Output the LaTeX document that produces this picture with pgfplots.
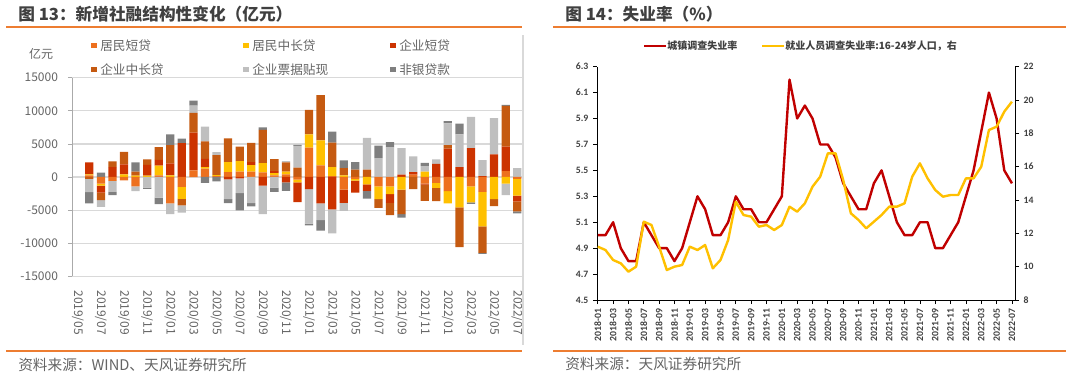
\documentclass[border=0pt]{standalone}
\usepackage{pgfplots}
\pgfplotsset{compat=1.18}
\usepackage{pgfplotstable}
\usepackage{fontspec}
\setmainfont{Noto Sans CJK SC}
\newfontfamily\carl{Carlito}

\definecolor{jmdd}{RGB}{237,112,30}
\definecolor{jmzc}{RGB}{255,192,0}
\definecolor{qydd}{RGB}{204,51,0}
\definecolor{qyzc}{RGB}{197,90,17}
\definecolor{pj}{RGB}{191,191,191}
\definecolor{fy}{RGB}{127,127,127}
\definecolor{txt}{RGB}{100,100,100}
\definecolor{ttl}{RGB}{64,64,64}
\definecolor{rulec}{RGB}{237,125,49}
\definecolor{gridc}{RGB}{217,217,217}
\definecolor{axg}{RGB}{170,170,170}
\definecolor{lred}{RGB}{192,0,0}
\definecolor{lyel}{RGB}{255,192,0}

% 新增社融结构性变化: 居民短贷 A, 居民中长贷 B, 企业短贷 C, 企业中长贷 D, 企业票据贴现 E, 非银贷款 F
\pgfplotstableread{
i A B C D E F
1 250 150 1800 -300 -2000 -1700
2 -1000 -300 -1050 -1150 -1000 650
3 -600 0 1500 850 -1650 -500
4 -500 400 1500 1900 0 0
5 -1400 200 0 600 -750 1400
6 0 200 1650 800 -1600 -200
7 250 1450 900 1900 -3100 -1000
8 -4000 250 1800 2750 -1600 1650
9 -1500 -1800 5100 -1000 -1100 700
10 1000 0 5700 3000 1100 750
11 1250 250 1250 2650 2200 -900
12 150 150 0 3000 450 -650
13 750 1500 -350 3600 -3000 -600
14 800 1600 -200 2200 -2250 -2600
15 800 1000 450 2900 -3950 -500
16 700 1400 -1300 5000 -4300 400
17 250 350 300 1800 -1600 -650
18 400 400 -800 1400 200 -1300
19 -400 -400 -3000 1400 3300 150
20 4450 2000 -1850 3700 -5200 -250
21 1750 3800 -4000 6800 -2500 -1600
22 150 1350 -4900 3700 -3600 1650
23 -1900 250 -2000 1100 -1200 1150
24 -300 -250 -1800 1100 0 1150
25 0 -1100 -1000 1100 4800 -1150
26 -1400 -1950 0 -1300 2850 1900
27 -1400 -1200 -1300 -1850 4500 750
28 0 -1900 350 -3700 4000 -550
29 350 0 400 -1850 2350 0
30 -1000 800 -150 -2450 850 500
31 -900 -750 2000 -2000 650 0
32 -2150 -1850 4300 500 3300 350
33 0 -4600 1500 -6000 4950 1600
34 -1400 -2450 4350 0 4750 -200
35 -2250 -5200 150 -4000 2400 -150
36 0 -3350 3400 -1050 5500 0
37 900 -1000 3700 6150 -1750 150
38 -300 -2500 -900 -1500 1350 -300
}\tsf

% 失业率: u 城镇调查失业率 (left), y 16-24岁 (right)
\pgfplotstableread{
m u y
0 5.0 11.2
1 5.0 11.0
2 5.1 10.4
3 4.9 10.2
4 4.8 9.7
5 4.8 10.0
6 5.1 12.7
7 5.0 12.5
8 4.9 11.2
9 4.9 9.8
10 4.8 10.0
11 4.9 10.1
12 5.1 11.2
13 5.3 11.0
14 5.2 11.3
15 5.0 9.9
16 5.0 10.4
17 5.1 11.6
18 5.3 13.9
19 5.2 13.1
20 5.2 13.0
21 5.1 12.4
22 5.1 12.5
23 5.2 12.2
24 5.3 12.5
25 6.2 13.6
26 5.9 13.3
27 6.0 13.8
28 5.9 14.8
29 5.7 15.4
30 5.7 16.8
31 5.6 16.8
32 5.4 15.2
33 5.3 13.2
34 5.2 12.8
35 5.2 12.3
36 5.4 12.7
37 5.5 13.1
38 5.3 13.6
39 5.1 13.6
40 5.0 13.8
41 5.0 15.4
42 5.1 16.2
43 5.1 15.3
44 4.9 14.6
45 4.9 14.2
46 5.0 14.3
47 5.1 14.3
48 5.3 15.3
49 5.5 15.3
50 5.8 16.0
51 6.1 18.2
52 5.9 18.4
53 5.5 19.3
54 5.4 19.9
}\tun

\pgfplotsset{
  lgeom/.style={at={(54pt,74.78pt)}, anchor=south west, scale only axis,
    width=338.25pt, height=148.95pt,
    xmin=-0.5, xmax=38.5, ymin=-15000, ymax=15000,
    ybar stacked, bar width=6.2pt},
  rgeom/.style={at={(447.75pt,57pt)}, anchor=south west, scale only axis,
    width=313.5pt, height=175pt, xmin=-0.1, xmax=54.4},
}

\begin{document}
\begin{tikzpicture}
\path[use as bounding box] (0,0) rectangle (810pt,282pt);

% ---------------- left chart: positive parts ----------------
\begin{axis}[lgeom,
  axis x line*=bottom, axis y line*=left,
  x axis line style={draw=none},
  y axis line style={draw=axg, line width=0.6pt},
  ytick={-15000,-10000,...,15000},
  scaled y ticks=false,
  xtick={0,2,...,38},
  xticklabels={2019/05,2019/07,2019/09,2019/11,2020/01,2020/03,2020/05,2020/07,2020/09,2020/11,2021/01,2021/03,2021/05,2021/07,2021/09,2021/11,2022/01,2022/03,2022/05,2022/07},
  xtick style={draw=none},
  ytick style={draw=axg, line width=0.6pt},
  tick align=outside, major tick length=3pt,
  ymajorgrids, grid style={draw=gridc, line width=0.9pt},
  /pgf/number format/1000 sep={},
  /pgf/number format/assume math mode=true,
  x tick label style={rotate=-90, anchor=west, font=\fontsize{9}{10}\selectfont, text=txt},
  y tick label style={font=\fontsize{9}{10}\selectfont, text=txt},
  xticklabel shift=4pt,
  yticklabel shift=4pt,
]
\addplot[fill=jmdd, draw=none] table[x=i, y expr={max(\thisrow{A},0)}] {\tsf};
\addplot[fill=jmzc, draw=none] table[x=i, y expr={max(\thisrow{B},0)}] {\tsf};
\addplot[fill=qydd, draw=none] table[x=i, y expr={max(\thisrow{C},0)}] {\tsf};
\addplot[fill=qyzc, draw=none] table[x=i, y expr={max(\thisrow{D},0)}] {\tsf};
\addplot[fill=pj, draw=none] table[x=i, y expr={max(\thisrow{E},0)}] {\tsf};
\addplot[fill=fy, draw=none] table[x=i, y expr={max(\thisrow{F},0)}] {\tsf};
\end{axis}

% ---------------- left chart: negative parts ----------------
\begin{axis}[lgeom, hide axis]
\addplot[fill=jmdd, draw=none] table[x=i, y expr={min(\thisrow{A},0)}] {\tsf};
\addplot[fill=jmzc, draw=none] table[x=i, y expr={min(\thisrow{B},0)}] {\tsf};
\addplot[fill=qydd, draw=none] table[x=i, y expr={min(\thisrow{C},0)}] {\tsf};
\addplot[fill=qyzc, draw=none] table[x=i, y expr={min(\thisrow{D},0)}] {\tsf};
\addplot[fill=pj, draw=none] table[x=i, y expr={min(\thisrow{E},0)}] {\tsf};
\addplot[fill=fy, draw=none] table[x=i, y expr={min(\thisrow{F},0)}] {\tsf};
\end{axis}

% ---------------- right chart: left axis ----------------
\begin{axis}[rgeom, ymin=4.5, ymax=6.3,
  axis x line*=bottom, axis y line*=left,
  axis line style={black, line width=0.7pt},
  ytick={4.5,4.7,4.9,5.1,5.3,5.5,5.7,5.9,6.1,6.3},
  /pgf/number format/assume math mode=true,
  /pgf/number format/fixed, /pgf/number format/fixed zerofill, /pgf/number format/precision=1,
  xtick={0,2,...,54},
  xticklabels={2018-01,2018-03,2018-05,2018-07,2018-09,2018-11,2019-01,2019-03,2019-05,2019-07,2019-09,2019-11,2020-01,2020-03,2020-05,2020-07,2020-09,2020-11,2021-01,2021-03,2021-05,2021-07,2021-09,2021-11,2022-01,2022-03,2022-05,2022-07},
  x tick label style={rotate=90, anchor=east, font=\carl\bfseries\fontsize{7.3}{8}\selectfont, text=ttl},
  y tick label style={font=\carl\bfseries\fontsize{7.3}{8}\selectfont, text=ttl},
  tick align=outside, major tick length=3pt,
  tick style={black, line width=0.6pt},
]
\addplot[lred, line width=1.8pt, line join=round] table[x=m, y=u] {\tun};
\end{axis}

% ---------------- right chart: right axis ----------------
\begin{axis}[rgeom, ymin=8, ymax=22,
  axis x line=none, axis y line*=right,
  axis line style={black, line width=0.7pt},
  ytick={8,10,...,22},
  /pgf/number format/assume math mode=true,
  y tick label style={font=\carl\bfseries\fontsize{7.3}{8}\selectfont, text=ttl},
  tick align=outside, major tick length=3pt,
  tick style={black, line width=0.6pt},
]
\addplot[lyel, line width=1.8pt, line join=round] table[x=m, y=y] {\tun};
\end{axis}

% ---------------- decorations ----------------
\begin{scope}[x=0.75pt, y=0.75pt]
\node[anchor=west, inner sep=0, text=ttl, font=\bfseries\fontsize{12.5}{14}\selectfont] at (18,361.5) {图 13：新增社融结构性变化（亿元）};
\node[anchor=west, inner sep=0, text=ttl, font=\bfseries\fontsize{12.5}{14}\selectfont] at (565,361.5) {图 14：失业率（\%）};
\draw[rulec, line width=0.9pt] (6,349) -- (522,349);
\draw[rulec, line width=0.9pt] (553,349) -- (1066,349);
\draw[rulec, line width=0.9pt] (6,25) -- (522,25);
\draw[rulec, line width=0.9pt] (553,25) -- (1066,25);
\node[anchor=west, inner sep=0, text=txt, font=\fontsize{11}{12}\selectfont] at (18,11) {资料来源：WIND、天风证券研究所};
\node[anchor=west, inner sep=0, text=txt, font=\fontsize{11}{12}\selectfont] at (565,12) {资料来源：天风证券研究所};
\draw[gridc, line width=0.8pt] (523,341) -- (523,31);
\node[text=txt, font=\fontsize{9}{10}\selectfont] at (41,322.5) {亿元};
\def\lgsq#1#2#3#4{\fill[#3] (#1-2.8,#2-2.8) rectangle (#1+2.8,#2+2.8);
  \node[anchor=west, inner sep=0, text=txt, font=\fontsize{9.5}{11}\selectfont] at (#1+6,#2) {#4};}
\lgsq{94}{330.5}{jmdd}{居民短贷}
\lgsq{246}{330.5}{jmzc}{居民中长贷}
\lgsq{393}{330.5}{qydd}{企业短贷}
\lgsq{94}{306.5}{qyzc}{企业中长贷}
\lgsq{246}{306.5}{pj}{企业票据贴现}
\lgsq{393}{306.5}{fy}{非银贷款}
\draw[lred, line width=1.8pt] (644,330) -- (666,330);
\node[anchor=west, inner sep=0, text=ttl, font=\bfseries\fontsize{7.5}{9}\selectfont] at (667,330) {城镇调查失业率};
\draw[lyel, line width=1.8pt] (762,330) -- (784,330);
\node[anchor=west, inner sep=0, text=ttl, font=\bfseries\fontsize{7.5}{9}\selectfont] at (785,330) {就业人员调查失业率:16-24岁人口，右};
\end{scope}
\end{tikzpicture}
\end{document}
